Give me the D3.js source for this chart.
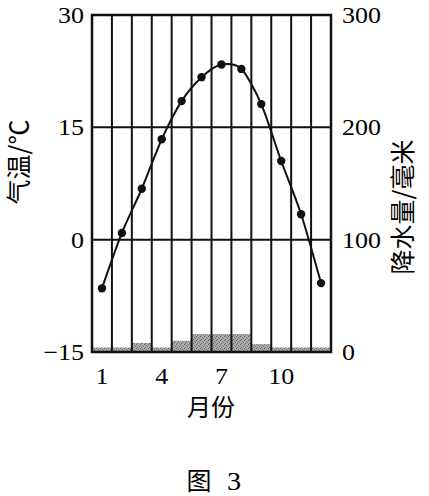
<!DOCTYPE html>
<html>
<head>
<meta charset="utf-8">
<script src="https://cdn.jsdelivr.net/npm/d3@7"></script>
<style>
  body { margin: 0; background: #fff; }
  svg { display: block; }
</style>
</head>
<body>
<script>
// chart size
var width = 429;
var height = 496;

// data
var months = [1, 2, 3, 4, 5, 6, 7, 8, 9, 10, 11, 12];
var temperature = [-6.5, 0.9, 6.8, 13.4, 18.5, 21.7, 23.4, 22.8, 18.1, 10.5, 3.4, -5.8];
var precipitation = [4, 4, 8, 4, 10, 16, 16, 16, 7, 4, 4, 4];
var monthTicks = [1, 4, 7, 10];
var tempTicks = [-15, 0, 15, 30];
var precTicks = [0, 100, 200, 300];

// plot box (window.top is reserved, so prefix the names)
var plotLeft = 92, plotRight = 331, plotTop = 15, plotBottom = 352;

var x = d3.scaleLinear().domain([0.5, 12.5]).range([plotLeft, plotRight]);
var yT = d3.scaleLinear().domain([-15, 30]).range([plotBottom, plotTop]);
var yP = d3.scaleLinear().domain([0, 300]).range([plotBottom, plotTop]);

var svg = d3.select("body")
    .append("svg")
    .attr("width", width)
    .attr("height", height)
    .attr("viewBox", [0, 0, width, height]);

var serif = "'Liberation Serif', 'DejaVu Serif', serif";
var cjk = "'Noto Sans CJK SC', sans-serif";
var stretch = 1.13; // the scanned digits are a bit wider than Times

// stippled grey for the rain columns
var pat = svg.append("defs").append("pattern")
    .attr("id", "stipple")
    .attr("width", 4).attr("height", 4)
    .attr("patternUnits", "userSpaceOnUse");
pat.append("rect").attr("width", 4).attr("height", 4).attr("fill", "#ababab");
pat.append("rect").attr("width", 1).attr("height", 1).attr("fill", "#5e5e5e");
pat.append("rect").attr("x", 2).attr("y", 1).attr("width", 1).attr("height", 1).attr("fill", "#707070");
pat.append("rect").attr("x", 1).attr("y", 3).attr("width", 1).attr("height", 1).attr("fill", "#666");
pat.append("rect").attr("x", 3).attr("y", 2).attr("width", 1).attr("height", 1).attr("fill", "#7a7a7a");

// precipitation columns
svg.append("g")
    .selectAll("rect")
    .data(months)
    .enter()
    .append("rect")
    .attr("x", d => x(d - 0.5))
    .attr("width", x(1.5) - x(0.5))
    .attr("y", (d, i) => yP(precipitation[i]))
    .attr("height", (d, i) => yP(0) - yP(precipitation[i]))
    .attr("fill", "url(#stipple)");

// vertical month lines
svg.append("g")
    .selectAll("line")
    .data(d3.range(0.5, 13, 1))
    .enter()
    .append("line")
    .attr("x1", d => x(d)).attr("x2", d => x(d))
    .attr("y1", plotTop).attr("y2", plotBottom)
    .attr("stroke", "#111")
    .attr("stroke-width", 2);

// horizontal lines at 15 and 0
svg.append("g")
    .selectAll("line")
    .data([0, 15])
    .enter()
    .append("line")
    .attr("x1", plotLeft).attr("x2", plotRight)
    .attr("y1", d => yT(d)).attr("y2", d => yT(d))
    .attr("stroke", "#111")
    .attr("stroke-width", 2);

// frame
svg.append("rect")
    .attr("x", plotLeft).attr("y", plotTop)
    .attr("width", plotRight - plotLeft).attr("height", plotBottom - plotTop)
    .attr("fill", "none")
    .attr("stroke", "#111")
    .attr("stroke-width", 2.5);

// temperature curve
var line = d3.line()
    .x((d, i) => x(months[i]))
    .y(d => yT(d))
    .curve(d3.curveCardinal.tension(0.2));

svg.append("path")
    .attr("d", line(temperature))
    .attr("fill", "none")
    .attr("stroke", "#111")
    .attr("stroke-width", 2);

svg.append("g")
    .selectAll("circle")
    .data(temperature)
    .enter()
    .append("circle")
    .attr("cx", (d, i) => x(months[i]))
    .attr("cy", d => yT(d))
    .attr("r", 4.2)
    .attr("fill", "#111");

// left axis labels
svg.append("g")
    .selectAll("text")
    .data(tempTicks)
    .enter()
    .append("text")
    .attr("transform", d => "translate(84," + (yT(d) + 8) + ") scale(" + stretch + ",1)")
    .attr("text-anchor", "end")
    .attr("font-family", serif)
    .attr("font-size", 23)
    .text(d => d < 0 ? "\u2212" + Math.abs(d) : d);

// right axis labels
svg.append("g")
    .selectAll("text")
    .data(precTicks)
    .enter()
    .append("text")
    .attr("transform", d => "translate(342," + (yP(d) + 8) + ") scale(" + stretch + ",1)")
    .attr("font-family", serif)
    .attr("font-size", 23)
    .text(d => d);

// month labels
svg.append("g")
    .selectAll("text")
    .data(monthTicks)
    .enter()
    .append("text")
    .attr("transform", d => "translate(" + x(d) + ",384) scale(" + stretch + ",1)")
    .attr("text-anchor", "middle")
    .attr("font-family", serif)
    .attr("font-size", 23)
    .text(d => d);

// axis titles
svg.append("text")
    .attr("x", 211).attr("y", 416)
    .attr("text-anchor", "middle")
    .attr("font-family", cjk)
    .attr("font-size", 24)
    .text("月份");

svg.append("text")
    .attr("transform", "translate(28,162) rotate(-90)")
    .attr("text-anchor", "middle")
    .attr("font-family", cjk)
    .attr("font-size", 25)
    .text("气温/℃");

svg.append("text")
    .attr("transform", "translate(412,207) rotate(-90)")
    .attr("text-anchor", "middle")
    .attr("font-family", cjk)
    .attr("font-size", 25)
    .text("降水量/毫米");

// caption
svg.append("text")
    .attr("x", 199).attr("y", 490)
    .attr("text-anchor", "middle")
    .attr("font-family", cjk)
    .attr("font-size", 25)
    .text("图");

svg.append("text")
    .attr("transform", "translate(234,490) scale(" + stretch + ",1)")
    .attr("text-anchor", "middle")
    .attr("font-family", serif)
    .attr("font-size", 25)
    .text("3");
</script>
</body>
</html>
